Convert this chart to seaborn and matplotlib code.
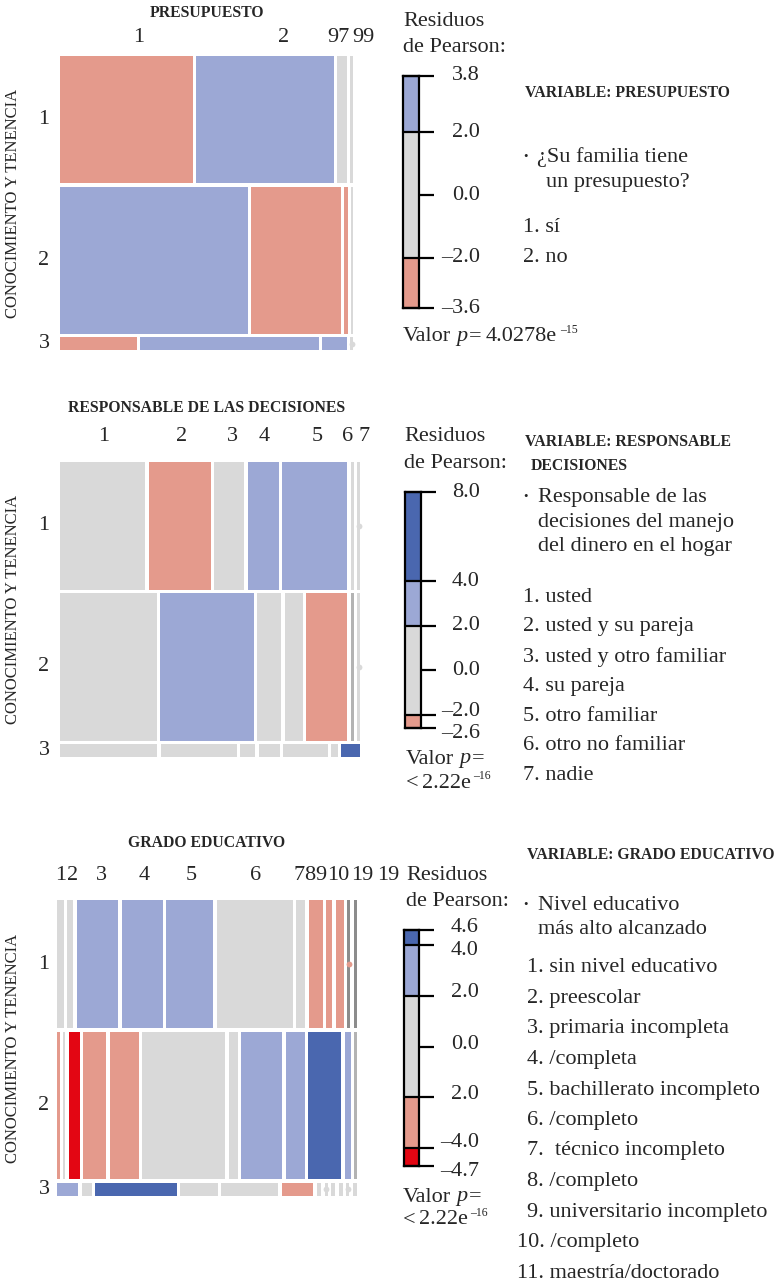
import numpy as np
import pandas as pd
import seaborn as sns
import matplotlib
matplotlib.use("Agg")
import matplotlib.pyplot as plt
from matplotlib.patches import Rectangle

# ---------------- data ----------------
conocimiento = ["1", "2", "3"]
conocimiento_share = [44.3, 51.2, 4.5]

presupuesto_labels = ["1", "2", "97", "99"]
presupuesto_share = [[46.8, 48.6, 3.5, 1.1],
                     [66.1, 31.8, 1.4, 0.7],
                     [27.5, 63.6, 8.9, 0.0]]
presupuesto_resid = [[-3.6, 3.8, 0.6, 0.4],
                     [3.1, -3.4, -2.2, -0.3],
                     [-2.3, 2.5, 2.1, 0.0]]
presupuesto_range = [-3.6, 3.8]
presupuesto_ticks = [3.8, 2.0, 0.0, -2.0, -3.6]
presupuesto_tick_labels = ["3.8", "2.0", "0.0", "–2.0", "–3.6"]
presupuesto_question = ["¿Su familia tiene", "un presupuesto?"]
presupuesto_items = ["1. sí", "2. no"]

responsable_labels = ["1", "2", "3", "4", "5", "6", "7"]
responsable_share = [[30.8, 22.5, 10.9, 11.2, 23.6, 1.1, 0.0],
                     [35.0, 33.9, 8.7, 6.5, 14.8, 1.1, 0.0],
                     [34.8, 27.2, 5.4, 7.5, 16.1, 2.2, 6.8]]
responsable_resid = [[0.8, -3.0, 1.2, 2.6, 3.4, 0.5, -0.4],
                     [-0.5, 3.2, -0.6, -1.5, -2.6, 0.3, -0.4],
                     [-0.9, -1.6, 0.9, -0.2, 0.1, 1.5, 8.0]]
responsable_range = [-2.6, 8.0]
responsable_ticks = [8.0, 4.0, 2.0, 0.0, -2.0, -2.6]
responsable_tick_labels = ["8.0", "4.0", "2.0", "0.0", "–2.0", "–2.6"]
responsable_question = ["Responsable de las", "decisiones del manejo",
                        "del dinero en el hogar"]
responsable_items = ["1. usted", "2. usted y su pareja",
                     "3. usted y otro familiar", "4. su pareja",
                     "5. otro familiar", "6. otro no familiar", "7. nadie"]

grado_labels = ["1", "2", "3", "4", "5", "6", "7", "8", "9", "10", "19", "19"]
grado_share = [[2.7, 2.3, 15.9, 15.9, 18.2, 29.5, 3.5, 5.4, 2.3, 3.1, 0.0, 1.2],
               [1.1, 0.8, 4.2, 8.8, 11.1, 31.7, 3.4, 15.6, 7.3, 12.6, 2.3, 1.1],
               [8.2, 3.9, 31.4, 14.5, 22.0, 12.2, 1.6, 0.0, 1.6, 1.6, 0.0, 1.6]]
grado_resid = [[0.5, 0.3, 2.8, 2.6, 3.1, 1.2, 0.9, -2.6, -2.1, -2.4, -2.1, -1.0],
               [-2.2, -0.5, -4.7, -3.1, -3.3, -1.0, 0.4, 2.7, 2.3, 4.6, 2.1, 0.5],
               [2.4, 0.3, 4.3, 0.8, -0.6, -2.3, 0.2, -0.3, 0.1, 0.1, -0.2, 0.5]]
grado_range = [-4.7, 4.6]
grado_ticks = [4.6, 4.0, 2.0, 0.0, -2.0, -4.0, -4.7]
grado_tick_labels = ["4.6", "4.0", "2.0", "0.0", "2.0", "–4.0", "–4.7"]
grado_question = ["Nivel educativo", "más alto alcanzado"]
grado_items = ["1. sin nivel educativo", "2. preescolar",
               "3. primaria incompleta", "4. /completa",
               "5. bachillerato incompleto", "6. /completo",
               "7.  técnico incompleto", "8. /completo",
               "9. universitario incompleto", "10. /completo",
               "11. maestría/doctorado"]

# ---------------- style ----------------
sns.set_theme(style="white")
plt.rcParams["font.family"] = ["Liberation Serif", "DejaVu Serif"]

GRAY = "#D9D9D9"
MIDGRAY = "#B3B3B3"
DARKGRAY = "#8C8C8C"
LIGHT_BLUE = "#9CA8D5"
DARK_BLUE = "#4A67AF"
SALMON = "#E49A8C"
RED = "#E30613"

FS = 16        # regular text
SC = 11.3      # bold small caps
YL = 12        # axis title

W, H = 774, 1286
fig = plt.figure(figsize=(W / 100, H / 100), dpi=100)
fig.patch.set_facecolor("white")
renderer = fig.canvas.get_renderer()


def fx(x):
    return x / W


def fy(y):
    return 1 - y / H


def txt(x, y, s, size=FS, ha="left", va="center", **kw):
    return fig.text(fx(x), fy(y), s, fontsize=size, ha=ha, va=va, **kw)


def res_color(r):
    if r >= 4:
        return DARK_BLUE
    if r >= 2:
        return LIGHT_BLUE
    if r <= -4:
        return RED
    if r <= -2:
        return SALMON
    return GRAY


def draw_mosaic(box, shares, resid, special, gapx, gapy, zero_w=3.0):
    x0, x1, y0, y1 = box
    width, height = x1 - x0, y1 - y0
    ax = fig.add_axes([fx(x0), fy(y1), width / W, height / H])
    ax.set_xlim(0, width)
    ax.set_ylim(height, 0)
    ax.axis("off")
    rs = np.array(conocimiento_share, float)
    rs = rs / rs.sum()
    nrow = len(shares)
    avail_h = height - gapy * (nrow - 1)
    y = 0.0
    centers = []
    for i in range(nrow):
        h = rs[i] * avail_h
        sh = np.array(shares[i], float)
        n = len(sh)
        nz = int((sh == 0).sum())
        avail_w = width - gapx * (n - 1) - zero_w * nz
        sh = sh / sh.sum()
        x = 0.0
        for j in range(n):
            base = res_color(resid[i][j])
            col = special.get((i, j), base)
            if sh[j] == 0:
                ax.add_patch(Rectangle((x, y), zero_w, h, facecolor=col,
                                       edgecolor="none", lw=0))
                ax.plot([x + zero_w / 2], [y + h / 2], "o", ms=4.2,
                        color=base, mec="none", clip_on=False)
                x += zero_w + gapx
            else:
                w = sh[j] * avail_w
                ax.add_patch(Rectangle((x, y), w, h, facecolor=col,
                                       edgecolor="none", lw=0))
                x += w + gapx
        centers.append(y0 + y + h / 2)
        y += h + gapy
    for lab, c in zip(conocimiento, centers):
        txt(44, c, lab, ha="center")
    txt(13, (y0 + y1) / 2, "CONOCIMIENTO Y TENENCIA", size=YL, ha="center",
        rotation=90)
    return ax


def draw_cbar(box, rng, ticks, labels, nudges, label_x=480):
    x0, x1, y0, y1 = box
    lo, hi = rng
    ax = fig.add_axes([fx(x0), fy(y1), (x1 - x0) / W, (y1 - y0) / H])
    ax.set_xlim(0, 1)
    ax.set_ylim(lo, hi)
    edges = sorted(set([lo, hi] + [t for t in (-4, -2, 2, 4) if lo < t < hi]))
    for a, b in zip(edges[:-1], edges[1:]):
        ax.axhspan(a, b, xmin=0, xmax=1, color=res_color((a + b) / 2), lw=0)
    for e in edges:
        ax.axhline(e, color="black", lw=1.6, clip_on=False)
    for s in ax.spines.values():
        s.set_visible(True)
        s.set_color("black")
        s.set_linewidth(1.6)
    ax.set_xticks([])
    ax.yaxis.tick_right()
    ax.set_yticks(ticks)
    ax.set_yticklabels([])
    ax.tick_params(axis="y", which="both", direction="out", length=10.5,
                   width=1.6, color="black", right=True, left=False,
                   labelright=False, labelleft=False)
    for t, lab, nd in zip(ticks, labels, nudges):
        ax.annotate(lab, xy=(fx(label_x), t),
                    xycoords=("figure fraction", "data"),
                    xytext=(0, -nd * 0.72), textcoords="offset points",
                    ha="right", va="center", fontsize=FS,
                    annotation_clip=False)
    return ax


def rich(x, y, parts):
    for s, kw in parts:
        kw = dict(kw)
        dy = kw.pop("dy", 0)
        gap = kw.pop("gap", 0)
        size = kw.pop("size", FS)
        t = txt(x, y + dy, s, size=size, **kw)
        bb = t.get_window_extent(renderer)
        x += bb.width + gap


def pvalue_inline(x, y, mant, expo):
    rich(x, y, [("Valor", {"gap": 5}),
                ("p", {"style": "italic", "gap": 2}),
                ("=", {"gap": 4}),
                (mant, {"gap": 3}),
                (expo, {"size": 8.5, "dy": -7})])


def pvalue_two(x, y, mant, expo, dy=24):
    rich(x, y, [("Valor", {"gap": 5}),
                ("p", {"style": "italic", "gap": 2}),
                ("=", {})])
    rich(x, y + dy, [("<", {"gap": 3}),
                     (mant, {"gap": 3}),
                     (expo, {"size": 8.5, "dy": -7})])


def residuos_title(x, y):
    txt(x, y, "Residuos")
    txt(x, y + 26, "de Pearson:")


# ---------------- panel 1: PRESUPUESTO ----------------
draw_mosaic((60, 353, 56, 350), presupuesto_share, presupuesto_resid, {},
            3.0, 3.5)
txt(207, 13, "PRESUPUESTO", size=SC, ha="center", fontweight="bold")
for lab, x in zip(presupuesto_labels, [139, 284, 338, 363]):
    txt(x, 37, lab, ha="center")
residuos_title(403, 22)
draw_cbar((403, 419, 76, 308), presupuesto_range, presupuesto_ticks,
          presupuesto_tick_labels, [0, 0, 0, 0, 0])
pvalue_inline(403, 337, "4.0278e", "–15")
txt(525, 93, "VARIABLE: PRESUPUESTO", size=SC, fontweight="bold")
txt(525, 157, "•", size=9, ha="center")
txt(537, 157, presupuesto_question[0])
txt(546, 182, presupuesto_question[1])
for k, it in enumerate(presupuesto_items):
    txt(523, 227 + 30 * k, it)

# ---------------- panel 2: RESPONSABLE ----------------
draw_mosaic((60, 360, 462, 757), responsable_share, responsable_resid,
            {(1, 5): MIDGRAY}, 3.4, 3.5)
txt(207, 408, "RESPONSABLE DE LAS DECISIONES", size=SC, ha="center",
    fontweight="bold")
for lab, x in zip(responsable_labels, [104, 182, 232, 264, 317, 348, 364]):
    txt(x, 437, lab, ha="center")
residuos_title(404, 437)
draw_cbar((405, 421, 492, 728), responsable_range, responsable_ticks,
          responsable_tick_labels, [1, 0, 0, 0, -3, 5])
pvalue_two(406, 759, "2.22e", "–16")
txt(525, 442, "VARIABLE: RESPONSABLE", size=SC, fontweight="bold")
txt(531, 466, "DECISIONES", size=SC, fontweight="bold")
txt(525, 497, "•", size=9, ha="center")
for k, q in enumerate(responsable_question):
    txt(538, 497 + 25 * k, q)
for k, it in enumerate(responsable_items):
    txt(523, 597 + 29.8 * k, it)

# ---------------- panel 3: GRADO EDUCATIVO ----------------
draw_mosaic((57, 357, 900, 1196), grado_share, grado_resid,
            {(0, 10): DARKGRAY, (0, 11): DARKGRAY, (1, 11): MIDGRAY},
            3.5, 3.5)
txt(207, 843, "GRADO EDUCATIVO", size=SC, ha="center", fontweight="bold")
for lab, x in zip(grado_labels,
                  [61, 73, 101, 144, 191, 256, 299, 310, 321, 338, 362, 388]):
    txt(x, 875, lab, ha="center")
residuos_title(406, 875)
draw_cbar((404, 419, 930, 1166), grado_range, grado_ticks, grado_tick_labels,
          [-3, 5, -3, -2, -3, -6, 6], label_x=479)
pvalue_two(403, 1197, "2.22e", "–16", dy=23)
txt(527, 855, "VARIABLE: GRADO EDUCATIVO", size=SC, fontweight="bold")
txt(525, 905, "•", size=9, ha="center")
for k, q in enumerate(grado_question):
    txt(538, 905 + 25 * k, q)
for k, it in enumerate(grado_items):
    xx = 517 if k >= 9 else 527
    txt(xx, 968 + 30.5 * k, it)

fig.savefig("out.png", dpi=100, facecolor="white")
